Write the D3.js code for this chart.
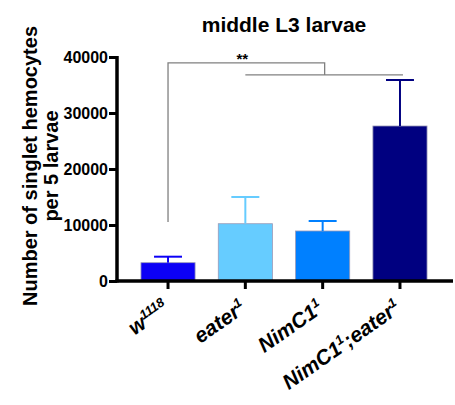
<!DOCTYPE html>
<html>
<head>
<meta charset="utf-8">
<script src="https://cdn.jsdelivr.net/npm/d3@7"></script>
<style>
  body { margin: 0; background: #fff; }
  svg { font-family: Arial, "Liberation Sans", sans-serif; }
</style>
</head>
<body>
<div id="chart"></div>
<script>
// genotypes, label = base text + superscript pieces
var categories = ["w1118", "eater1", "NimC11", "NimC11;eater1"];
var labelParts = [
  [["w", false], ["1118", true]],
  [["eater", false], ["1", true]],
  [["NimC1", false], ["1", true]],
  [["NimC1", false], ["1", true], [";eater", false], ["1", true]]
];
var means = [3270, 10230, 8930, 27680];
var errors = [1070, 4770, 1780, 8210];
var barColors = ["#0c00f6", "#66ccff", "#0080ff", "#000080"];
var yTicks = [0, 10000, 20000, 30000, 40000];

// significance bracket levels
var bracketHigh = 38950;
var bracketLow = 36800;
var bracketFoot = 10550;

var width = 455, height = 405;
var svg = d3.select("#chart").append("svg")
    .attr("width", width).attr("height", height);

var x = d3.scaleBand()
    .domain(categories)
    .range([117, 451])
    .paddingInner(0.3)
    .paddingOuter(0.31);

var y = d3.scaleLinear()
    .domain([0, 40000])
    .range([281, 57]);

// bars
svg.selectAll(".bar")
  .data(categories)
  .enter().append("rect")
    .attr("class", "bar")
    .attr("x", function(d) { return x(d); })
    .attr("y", function(d, i) { return y(means[i]); })
    .attr("width", x.bandwidth())
    .attr("height", function(d, i) { return y(0) - y(means[i]); })
    .attr("fill", function(d, i) { return barColors[i]; })
    .attr("stroke", "#9a9ab8")
    .attr("stroke-width", 0.8);

// error bars (upper only)
var capW = 28;
categories.forEach(function(c, i) {
  var cx = x(c) + x.bandwidth() / 2;
  svg.append("line")
    .attr("x1", cx).attr("x2", cx)
    .attr("y1", y(means[i])).attr("y2", y(means[i] + errors[i]))
    .attr("stroke", barColors[i]).attr("stroke-width", 2);
  svg.append("line")
    .attr("x1", cx - capW / 2).attr("x2", cx + capW / 2)
    .attr("y1", y(means[i] + errors[i])).attr("y2", y(means[i] + errors[i]))
    .attr("stroke", barColors[i]).attr("stroke-width", 2);
});

// axes
var yAxis = svg.append("g")
    .attr("transform", "translate(117,0)")
    .call(d3.axisLeft(y).tickValues(yTicks).tickSize(8).tickPadding(1).tickFormat(d3.format("d")));
yAxis.select(".domain").attr("stroke-width", 3.5).attr("d", "M0," + (y(40000) - 1) + "V" + (y(0) + 1.5));
yAxis.selectAll(".tick line").attr("stroke-width", 3);
yAxis.selectAll(".tick text")
    .attr("font-size", 16).attr("font-weight", "bold").attr("fill", "#000")
    .attr("font-family", "Arial, 'Liberation Sans', sans-serif");

var xAxis = svg.append("g")
    .attr("transform", "translate(0," + y(0) + ")")
    .call(d3.axisBottom(x).tickSize(8).tickFormat(""));
xAxis.select(".domain").attr("stroke-width", 3.5).attr("d", "M115.5,0H453");
xAxis.selectAll(".tick line").attr("stroke-width", 3);

// x labels, rotated, with superscripts
categories.forEach(function(c, i) {
  var cx = x(c) + x.bandwidth() / 2;
  var t = svg.append("text")
    .attr("transform", "translate(" + (cx + 2) + "," + (y(0) + 30) + ") rotate(-35)")
    .attr("text-anchor", "end")
    .attr("font-size", 21)
    .attr("font-weight", "bold")
    .attr("font-style", "italic");
  var raised = false;
  labelParts[i].forEach(function(p) {
    var ts = t.append("tspan").text(p[0]);
    if (p[1] && !raised) { ts.attr("dy", -8).attr("font-size", 13); raised = true; }
    else if (!p[1] && raised) { ts.attr("dy", 8); raised = false; }
    else if (p[1]) { ts.attr("font-size", 13); }
  });
});

// significance bracket
var c1 = x(categories[0]) + x.bandwidth() / 2,
    c2 = x(categories[1]) + x.bandwidth() / 2,
    c3 = x(categories[2]) + x.bandwidth() / 2,
    c4 = x(categories[3]) + x.bandwidth() / 2;
svg.append("path")
    .attr("d", "M" + c1 + "," + y(bracketFoot) + "V" + y(bracketHigh) + "H" + (c3 + 2) + "V" + y(bracketLow))
    .attr("fill", "none").attr("stroke", "#808080").attr("stroke-width", 1.3);
svg.append("path")
    .attr("d", "M" + c2 + "," + y(bracketLow) + "H" + (c4 + 3))
    .attr("fill", "none").attr("stroke", "#808080").attr("stroke-width", 1.3);
svg.append("text")
    .attr("x", (c1 + c3) / 2 - 3).attr("y", y(bracketHigh) + 1)
    .attr("text-anchor", "middle")
    .attr("font-size", 15).attr("font-weight", "bold")
    .text("**");

// title
svg.append("text")
    .attr("x", 284).attr("y", 32)
    .attr("text-anchor", "middle")
    .attr("font-size", 21).attr("font-weight", "bold")
    .text("middle L3 larvae");

// y title
var yt = svg.append("text")
    .attr("transform", "translate(37,166) rotate(-90)")
    .attr("text-anchor", "middle")
    .attr("font-size", 20).attr("font-weight", "bold");
yt.append("tspan").attr("x", 0).attr("y", 0).text("Number of singlet hemocytes");
yt.append("tspan").attr("x", 0).attr("y", 21).text("per 5 larvae");
</script>
</body>
</html>
